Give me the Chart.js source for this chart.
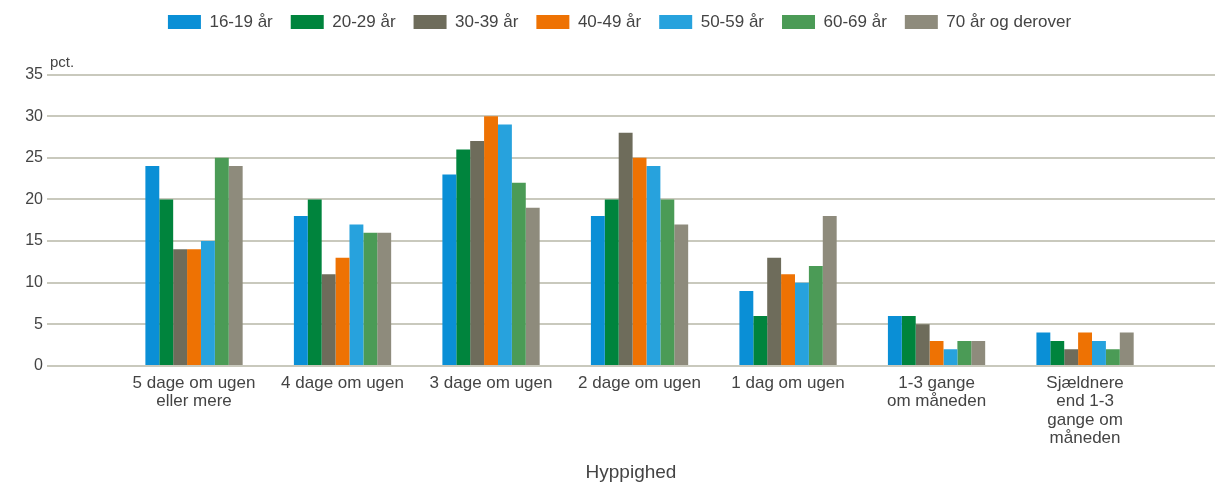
<!DOCTYPE html>
<html><head><meta charset="utf-8">
<script src="https://cdn.jsdelivr.net/npm/chart.js@4/dist/chart.umd.min.js"></script>
<style>html,body{margin:0;padding:0;background:#fff}#wrap{width:1218px;height:482px}</style>
</head><body><div id="wrap"><canvas id="c" width="1218" height="482"></canvas></div>
<script>
const categories = [
  ["5 dage om ugen","eller mere"],
  ["4 dage om ugen"],
  ["3 dage om ugen"],
  ["2 dage om ugen"],
  ["1 dag om ugen"],
  ["1-3 gange","om måneden"],
  ["Sjældnere","end 1-3","gange om","måneden"]
];
const seriesNames = ["16-19 år","20-29 år","30-39 år","40-49 år","50-59 år","60-69 år","70 år og derover"];
const age16_19 = [24,18,23,18,9,6,4];
const age20_29 = [20,20,26,20,6,6,3];
const age30_39 = [14,11,27,28,13,5,2];
const age40_49 = [14,13,30,25,11,3,4];
const age50_59 = [15,17,29,24,10,2,3];
const age60_69 = [25,16,22,20,12,3,2];
const age70plus = [24,16,19,17,18,3,4];
const yTicks = [0,5,10,15,20,25,30,35];
const colors = ["#0a8fd6","#00843d","#6e6c5b","#ee7203","#27a2dd","#4b9b56","#8e8b7c"];
const allSeries = [age16_19,age20_29,age30_39,age40_49,age50_59,age60_69,age70plus];

const FONT = "'Liberation Sans', Arial, sans-serif";
const datasets = allSeries.map((vals,i)=>({
  label: seriesNames[i],
  data: vals.map((v,j)=>({x:j,y:v})),
  backgroundColor: colors[i],
  borderWidth: 0,
  categoryPercentage: 0.655,
  barPercentage: 1
}));

const pctPlugin = {
  id:'pct',
  afterDraw(chart){
    const {ctx, chartArea} = chart;
    ctx.save();
    ctx.font = "15px " + FONT;
    ctx.fillStyle = "#444";
    ctx.textBaseline = "bottom";
    ctx.fillText("pct.", chartArea.left + 3, chartArea.top - 4);
    ctx.restore();
  }
};

new Chart(document.getElementById('c'), {
  type:'bar',
  data:{datasets},
  plugins:[pctPlugin],
  options:{
    responsive:false,
    animation:false,
    layout:{padding:{top:-4.5,right:3,left:24,bottom:0}},
    plugins:{
      legend:{
        position:'top',
        labels:{boxWidth:33,boxHeight:14,padding:18,color:'#444',font:{family:FONT,size:17}}
      },
      subtitle:{display:true,text:'',weight:500,font:{size:1,lineHeight:1},padding:{top:0,bottom:33}},
      tooltip:{enabled:false}
    },
    scales:{
      x:{
        type:'linear',
        min:-0.99, max:6.875,
        offset:false,
        grid:{display:false},
        border:{display:false},
        ticks:{
          stepSize:1, includeBounds:false, autoSkip:false, maxRotation:0,
          color:'#444', font:{family:FONT,size:17,lineHeight:1.09}, padding:0,
          callback:(v)=> (Number.isInteger(v) && categories[v]) ? categories[v] : ''
        },
        title:{display:true,text:'Hyppighed',color:'#444',font:{family:FONT,size:19,lineHeight:1.05},padding:{top:15,bottom:-1}}
      },
      y:{
        min:0,max:35,
        afterFit:(s)=>{s.width=23;},
        afterBuildTicks:(s)=>{s.ticks = yTicks.map(v=>({value:v}));},
        grid:{color:'#c9c9bd',lineWidth:2,drawTicks:false},
        border:{display:false},
        ticks:{color:'#444',font:{family:FONT,size:16},padding:4}
      }
    }
  }
});
</script></body></html>
